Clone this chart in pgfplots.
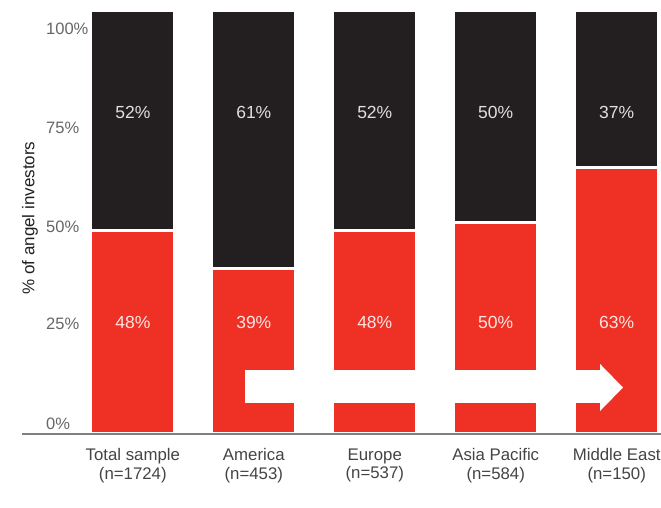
\documentclass[border=0pt]{standalone}
\usepackage{pgfplots}
\pgfplotsset{compat=1.18}
\usepackage{fontspec}
\setmainfont{Liberation Sans}
\definecolor{pwcred}{HTML}{EE3124}
\definecolor{pwcblack}{HTML}{231F20}
\definecolor{ticktext}{HTML}{666666}
\definecolor{cattext}{HTML}{444444}
\begin{document}
\begin{tikzpicture}
\useasboundingbox (0,0) rectangle (661pt,508pt);
\begin{axis}[
  at={(22pt,74pt)}, anchor=south west,
  scale only axis, width=639pt, height=423.5pt,
  xmin=-0.916, xmax=4.366, ymin=0, ymax=100,
  ybar stacked, bar width=84pt,
  clip=false,
  axis x line=bottom, axis y line=left,
  y axis line style={draw=none},
  x axis line style={draw=gray, line width=1.5pt, -},
  major tick length=0pt,
  xtick={0,1,2,3,4},
  xticklabels={{Total sample\\(n=1724)},{America\\(n=453)},{Europe\\(n=537)},{Asia Pacific\\(n=584)},{Middle East\\(n=150)}},
  xticklabel style={align=center, font=\fontsize{16.8}{18.5}\selectfont, text=cattext, yshift=-11pt},
  ytick={2.5,26,49,72.4,95.6},
  yticklabels={0\%,25\%,50\%,75\%,100\%},
  yticklabel style={anchor=west, inner sep=0pt, xshift=24pt, font=\fontsize{16.5}{19}\selectfont, text=ticktext},
  every axis y label/.style={at={(axis description cs:0.0125,0.51)}, rotate=90, anchor=center, font=\fontsize{17}{20}\selectfont, text=pwcblack},
  ylabel={\% of angel investors},
]
\addplot[fill=pwcred, draw=white, line width=3pt] coordinates {(0,48) (1,39) (2,48) (3,50) (4,63)};
\addplot[fill=pwcblack, draw=white, line width=3pt] coordinates {(0,52) (1,61) (2,52) (3,50) (4,37)};
\coordinate (A1) at (axis cs:0.9275,7.32);
\coordinate (A2) at (axis cs:3.862,7.32);
\coordinate (A3) at (axis cs:3.862,5.43);
\coordinate (A4) at (axis cs:4.052,10.98);
\coordinate (A5) at (axis cs:3.862,16.53);
\coordinate (A6) at (axis cs:3.862,15.11);
\coordinate (A7) at (axis cs:0.9275,15.11);
\coordinate (B1) at (axis cs:-0.916,0);
\coordinate (B2) at (axis cs:4.366,0);
\coordinate (R0) at (axis cs:0,26.3);
\coordinate (R1) at (axis cs:1,26.3);
\coordinate (R2) at (axis cs:2,26.3);
\coordinate (R3) at (axis cs:3,26.3);
\coordinate (R4) at (axis cs:4,26.3);
\coordinate (K0) at (axis cs:0,76.0);
\coordinate (K1) at (axis cs:1,76.0);
\coordinate (K2) at (axis cs:2,76.0);
\coordinate (K3) at (axis cs:3,76.0);
\coordinate (K4) at (axis cs:4,76.0);
\end{axis}
\draw[gray, line width=1.5pt] (B1) -- (B2);
\fill[white] (A1) -- (A2) -- (A3) -- (A4) -- (A5) -- (A6) -- (A7) -- cycle;
\begin{scope}[every node/.style={font=\fontsize{17.5}{20}\selectfont, anchor=center}]
\node[text=white!88!pwcred] at (R0) {48\%};
\node[text=white!88!pwcred] at (R1) {39\%};
\node[text=white!88!pwcred] at (R2) {48\%};
\node[text=white!88!pwcred] at (R3) {50\%};
\node[text=white!88!pwcred] at (R4) {63\%};
\node[text=white!88!black] at (K0) {52\%};
\node[text=white!88!black] at (K1) {61\%};
\node[text=white!88!black] at (K2) {52\%};
\node[text=white!88!black] at (K3) {50\%};
\node[text=white!88!black] at (K4) {37\%};
\end{scope}
\end{tikzpicture}
\end{document}
